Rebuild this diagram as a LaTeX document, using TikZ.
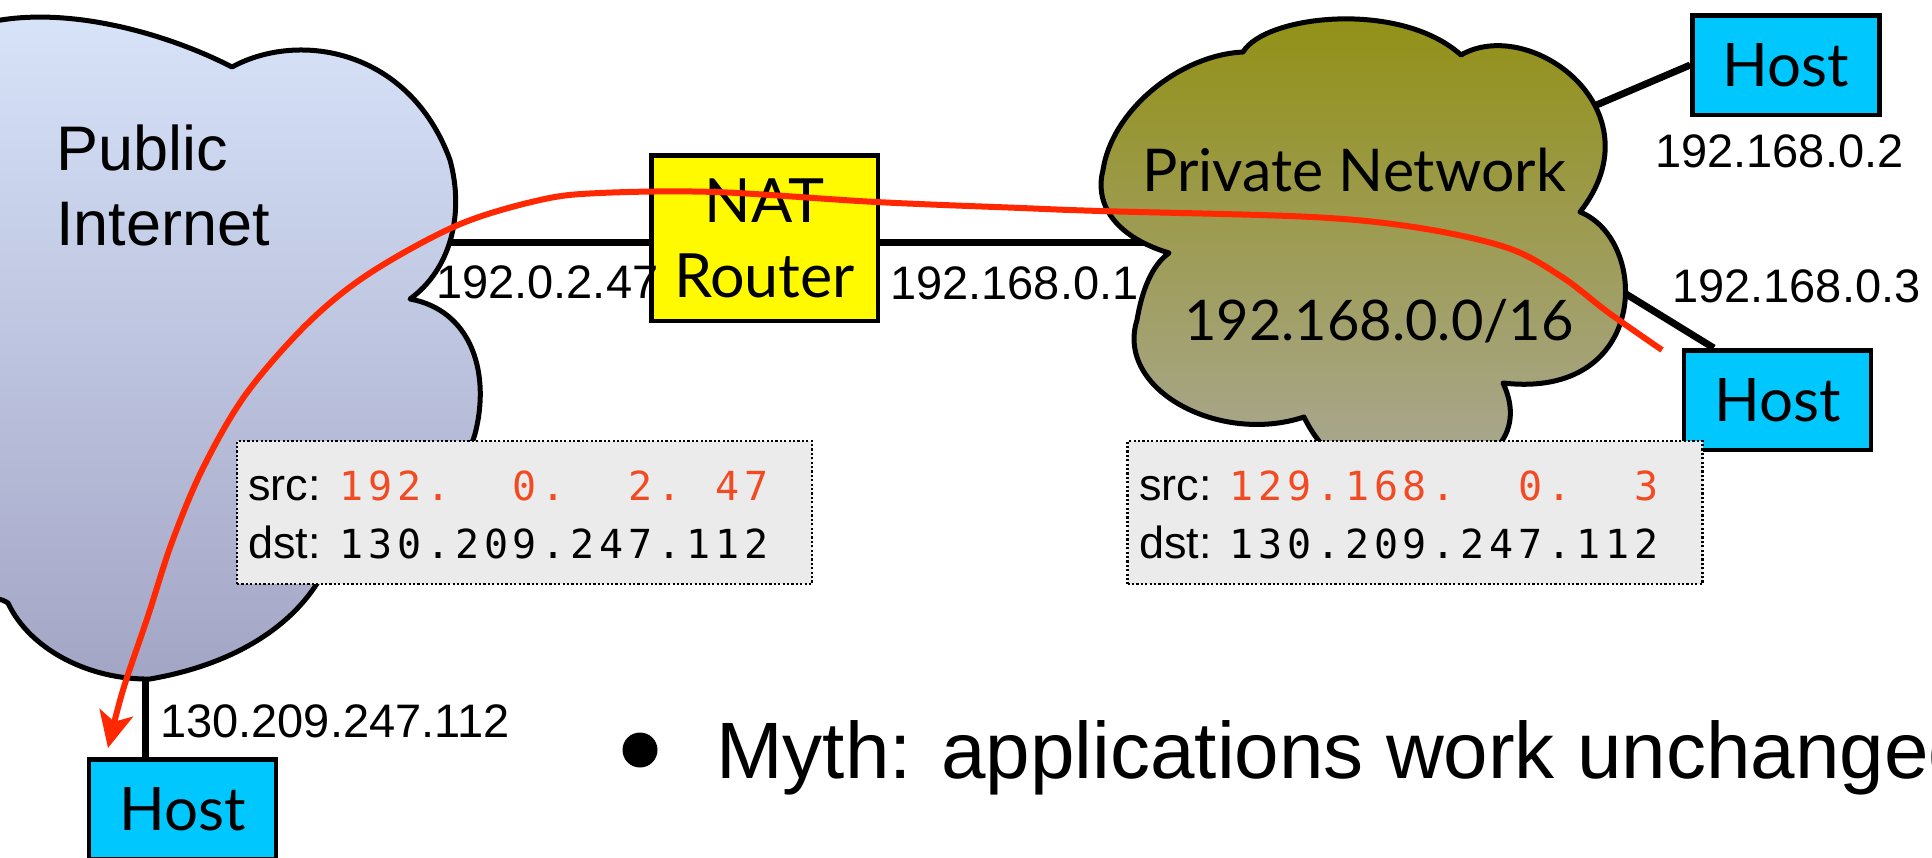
\documentclass[tikz,border=0pt]{standalone}
\usepackage{fontspec}
\setmainfont{Liberation Sans}
\newfontfamily\gill{Lato}
\newfontfamily\monof{DejaVu Sans Mono}
\usetikzlibrary{arrows.meta,calc}
\pgfdeclarelayer{bg}
\pgfsetlayers{bg,main}
\definecolor{hostcyan}{RGB}{0,200,255}
\definecolor{natyellow}{RGB}{255,250,0}
\definecolor{pubtop}{RGB}{216,228,250}
\definecolor{pubbot}{RGB}{163,165,197}
\definecolor{privtop}{RGB}{145,144,18}
\definecolor{privbot}{RGB}{170,168,150}
\definecolor{arrowred}{RGB}{255,40,0}
\definecolor{srcred}{RGB}{242,74,34}
\definecolor{pktgray}{RGB}{235,235,235}
% fixed-pitch character cells: "_" stands for one empty cell
\newlength\mw
\setlength\mw{28.9pt}
\def\mseq#1{\mseqi#1\relax}
\def\mseqi#1{\ifx#1\relax\else\ifx#1_\hspace*{\mw}\else\makebox[\mw][c]{#1}\fi\expandafter\mseqi\fi}
\begin{document}
\begin{tikzpicture}[x=1pt,y=-1pt,
  link/.style={line width=7pt},
  hostbox/.style={draw, line width=4.5pt, fill=hostcyan, minimum width=187pt, minimum height=99.5pt, inner sep=0pt, font=\gill\fontsize{60}{60}\selectfont},
  natbox/.style={draw, line width=4.5pt, fill=natyellow, minimum width=226.5pt, minimum height=165.5pt, inner sep=0pt, align=center, font=\gill\fontsize{61}{75}\selectfont},
  pktbox/.style={draw, fill=pktgray, line width=2.2pt, dash pattern=on 2.2pt off 2.2pt, minimum width=575pt, minimum height=143pt, inner sep=0pt},
  addr/.style={font=\fontsize{47}{50}\selectfont, inner sep=0pt, anchor=base west},
  pkt/.style={font=\fontsize{45}{50}\selectfont, inner sep=0pt, anchor=base west},
  monotxt/.style={font=\monof\fontsize{40}{50}\selectfont, inner sep=0pt, anchor=base west},
  bigname/.style={font=\fontsize{63}{75}\selectfont, inner sep=0pt, anchor=base west},
  privname/.style={font=\gill\fontsize{59}{60}\selectfont, inner sep=0pt, anchor=base},
  cloudline/.style={draw, line width=5pt, line join=round},
  flow/.style={draw=arrowred, line width=6pt, -{Stealth[length=36pt,width=34pt,inset=9pt]}},
]
\useasboundingbox (0,0) rectangle (1932,857);

% attachment points on the clouds
\coordinate (pubE) at (440,242);
\coordinate (privW) at (1180,242);
\coordinate (privNE) at (1580,112);
\coordinate (privSE) at (1600,278);
\coordinate (pubS) at (145,660);
\coordinate (flowS) at (1662,350);
\coordinate (flowE) at (108,748);

% Public Internet cloud
\path[cloudline, top color=pubtop, bottom color=pubbot]
  (-10,22) .. controls (70,5) and (170,35) .. (232,67)
  .. controls (300,30) and (410,50) .. (450,160)
  .. controls (465,215) and (450,270) .. (410,299)
  .. controls (470,310) and (490,370) .. (476,430)
  .. controls (465,480) and (400,515) .. (340,520)
  .. controls (330,600) and (260,660) .. (150,679)
  .. controls (90,680) and (30,650) .. (8,603)
  .. controls (0,598) and (-5,598) .. (-12,600)
  -- (-12,22) -- cycle;

% Private Network cloud
\path[cloudline, top color=privtop, bottom color=privbot]
  (1169,253) .. controls (1110,235) and (1095,200) .. (1103,170)
  .. controls (1112,110) and (1180,55) .. (1243,52)
  .. controls (1265,15) and (1400,0) .. (1461,55)
  .. controls (1530,15) and (1660,110) .. (1580,212)
  .. controls (1650,240) and (1650,400) .. (1503,383)
  .. controls (1530,440) and (1480,480) .. (1400,480)
  .. controls (1350,480) and (1320,450) .. (1304,417)
  .. controls (1220,445) and (1115,390) .. (1137,320)
  .. controls (1142,290) and (1152,265) .. (1169,253) -- cycle;

\node[bigname] (pubname1) at (56,170) {Public};
\node[bigname] (pubname2) at (56,245) {Internet};
\node[privname] (privname1) at (1354,191) {Private Network};
\node[privname, font=\gill\fontsize{56}{60}\selectfont] (privname2) at (1379,340) {192.168.0.0/16};

% boxes
\node[natbox] (nat) at (764.5,238) {NAT\\Router};
\node[hostbox] (hostTR) at (1786,65) {Host};
\node[hostbox] (hostR) at (1777.5,400) {Host};
\node[hostbox] (hostBL) at (182.5,809) {Host};

% connectors (under everything)
\begin{pgfonlayer}{bg}
\draw[link] (pubE) -- (pubE -| nat.west);
\draw[link] (nat.east |- privW) -- (privW);
\draw[link] (privNE) -- (hostTR.west);
\draw[link] (privSE) -- ($(hostR.north west)+(32,0)$);
\draw[link] (pubS) -- (pubS |- hostBL.north);
\end{pgfonlayer}

% address labels
\node[addr] (ipPub) at (436,298) {192.0.2.47};
\node[addr] (ipPriv) at (890,299) {192.168.0.1};
\node[addr] (ipH2) at (1655,167) {192.168.0.2};
\node[addr] (ipH3) at (1672,302) {192.168.0.3};
\node[addr] (ipDst) at (160,737) {130.209.247.112};

% packet headers
\node[pktbox] (pktA) at (524.5,512.5) {};
\node[pkt] (srcA) at (248,500) {src:};
\node[monotxt, text=srcred] (srcAv) at (337,500) {\mseq{192.__0.__2._47}};
\node[pkt] (dstA) at (248,558) {dst:};
\node[monotxt] (dstAv) at (337,558) {\mseq{130.209.247.112}};

\node[pktbox] (pktB) at (1415,512.5) {};
\node[pkt] (srcB) at (1139,500) {src:};
\node[monotxt, text=srcred] (srcBv) at (1227,500) {\mseq{129.168.__0.__3}};
\node[pkt] (dstB) at (1139,558) {dst:};
\node[monotxt] (dstBv) at (1227,558) {\mseq{130.209.247.112}};

% bullet text
\node[circle, fill=black, minimum size=35pt, inner sep=0pt] (bullet) at (640,750) {};
\node[font=\fontsize{80}{80}\selectfont, inner sep=0pt, anchor=base west] (myth) at (716,778) {Myth: applications work unchanged};

% packet flow
\draw[flow] plot[smooth, tension=0.55] coordinates {(flowS) (1609,313) (1562,277) (1508,248) (1420,228) (1312,217) (1100,211) (1021,208) (876,202) (715,192) (600,193) (540,200) (458,225) (370,273) (308,323) (246,394) (203,468) (172,542) (148,616) (123,690) (flowE)};
\end{tikzpicture}
\end{document}
